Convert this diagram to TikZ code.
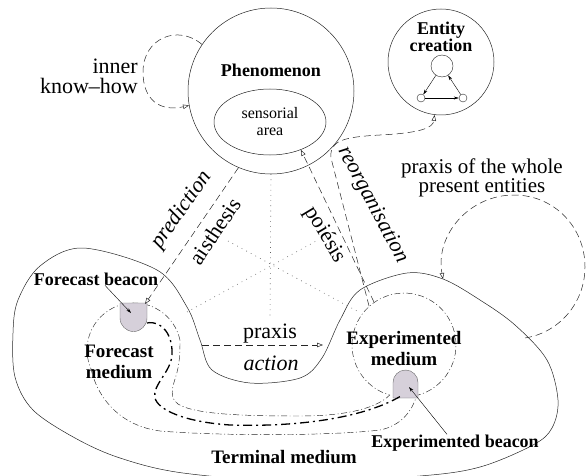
\documentclass[tikz,border=0pt]{standalone}
\usepackage{fontspec}
\setmainfont{Liberation Serif}
\usetikzlibrary{arrows.meta,shapes.geometric}
\definecolor{beacongray}{RGB}{214,208,218}

\begin{document}
\begin{tikzpicture}[
    x=1pt, y=-1pt,
    outline/.style={
        draw=black!85,
        line width=0.5pt
    },
    dashln/.style={
        draw=black!85,
        line width=0.5pt,
        dash pattern=on 7pt off 4pt
    },
    dashdot/.style={
        draw=black!85,
        line width=0.45pt,
        dash pattern=on 6pt off 2.5pt on 1pt off 2.5pt
    },
    thickdd/.style={
        draw=black,
        line width=1.3pt,
        dash pattern=on 9pt off 4pt on 2pt off 4pt
    },
    dotln/.style={
        draw=black!70,
        line width=0.6pt,
        dash pattern=on 0.7pt off 4.5pt
    },
    opentip/.style={-{Triangle[open,length=6pt,width=4.5pt]}},
    smalltip/.style={-{Stealth[length=5pt,width=3pt]}},
    bold/.style={
        font=\fontsize{18}{16}\selectfont\bfseries,
        inner sep=0pt,
        align=center
    },
    word/.style={
        font=\fontsize{22}{17}\selectfont,
        inner sep=0pt,
        align=center
    },
    slanted/.style={
        font=\fontsize{22}{17}\selectfont\itshape,
        inner sep=0pt
    },
    beacon/.style={
        fill=beacongray,
        draw=black!60,
        line width=0.4pt
    }
]
\clip (0,0) rectangle (586,476);

% Terminal medium
\draw[outline] plot[smooth cycle, tension=0.55] coordinates {
    (83,248) (157,270) (187,307) (200,340) (212,370) (250,383) (300,378)
    (322,358) (340,320) (360,290) (407,273) (443,279) (480,300) (515,325)
    (547,360) (558,400) (552,428) (533,445) (480,467) (420,476) (300,482)
    (183,473) (120,458) (75,438) (33,410) (15,377) (13,333) (18,300) (40,266)};

% Forecast and experimented media
\node[circle, minimum size=94pt, inner sep=0pt] (fcm) at (134,350) {};
\node[circle, minimum size=104pt, inner sep=0pt] (expm) at (404,345) {};
\draw[dashdot] (180,340.2) arc[start angle=-12, end angle=-204, radius=47]
    .. controls (96,392) and (115,425) .. (160,431)
    .. controls (220,436) and (330,436) .. (380,430)
    .. controls (400,426) and (412,412) .. (416.6,395.5)
    arc[start angle=76, end angle=-254, radius=52]
    .. controls (375,410) and (340,416) .. (300,416)
    .. controls (250,416) and (195,415) .. (178,404)
    .. controls (166,396) and (176,380) .. (178,368)
    .. controls (180,358) and (180,348) .. (180,340.2);

% Beacons
\draw[beacon] (120,303) -- (120,318) arc[start angle=180, end angle=0, radius=13.5] -- (147,303) -- cycle;
\draw[beacon] (393,398) -- (393,382.5) arc[start angle=180, end angle=360, radius=12.5] -- (418,398) -- cycle;
\coordinate (fbtop) at (145,304);
\coordinate (fbR) at (147,323);
\coordinate (fbc) at (131,313);
\coordinate (ebB) at (401,396);
\coordinate (ebc) at (409,387);

% Phenomenon and entity creation
\node[circle, draw=black!85, line width=0.5pt, minimum size=166pt, inner sep=0pt] (phen) at (271,91) {};
\node[bold, anchor=base] (phenlbl) at (271,77) {Phenomenon};
\node[ellipse, draw=black!85, line width=0.5pt, minimum width=112pt, minimum height=66pt, inner sep=0pt,
      font=\fontsize{16}{17}\selectfont, align=center] (sens) at (270,122) {sensorial\\area};
\node[circle, draw=black!85, line width=0.5pt, minimum size=106pt, inner sep=0pt] (ent) at (441,62) {};
\node[bold] (entlbl) at (441,37) {Entity\\creation};
\node[circle, draw=black!85, line width=0.4pt, minimum size=22pt, inner sep=0pt] (ctop) at (442,66) {};
\node[circle, draw=black!85, line width=0.4pt, minimum size=8pt, inner sep=0pt] (cleft) at (421,98) {};
\node[circle, draw=black!85, line width=0.4pt, minimum size=8pt, inner sep=0pt] (cright) at (463,98) {};
\draw[smalltip, line width=0.4pt] (ctop) -- (cleft);
\draw[smalltip, line width=0.4pt] (cleft) -- (cright);
\draw[smalltip, line width=0.4pt] (cright) -- (ctop);

% Medians
\coordinate (midFE) at (270,318);
\coordinate (fcmTip) at (187,312);
\coordinate (midPE) at (318,240);
\coordinate (midPF) at (228,241);
\coordinate (expmTip) at (357,311);
\draw[dotln] (phen.south) -- (midFE);
\draw[dotln] (fcmTip) -- (midPE);
\draw[dotln] (midPF) -- (expmTip);

% Loops and flows
\draw[dashln, opentip] (phen.146) .. controls (178,24) and (143,38) .. (143,72)
    .. controls (143,100) and (160,112) .. (phen.190);
\draw[dashln, opentip] (phen.247) -- (fbtop);
\draw[dashln, opentip] (expm.125) -- (sens.-42);
\draw[dashln, opentip] (expm.132) -- (331,158) .. controls (329,140) and (345,137) .. (380,135)
    .. controls (420,133) and (433,128) .. (ent.263);
\coordinate (praxS) at (202,345);
\coordinate (praxE) at (323,345);
\draw[dashln, opentip] (praxS) -- (praxE);
\coordinate (wholeS) at (525,338);
\coordinate (wholeE) at (443,279);
\draw[dashln, opentip] (wholeS) .. controls (560,332.5) and (585,302) .. (585,267)
    .. controls (585,227) and (554,195) .. (514,195)
    .. controls (469,195) and (435,235) .. (wholeE);
\draw[thickdd] (fbR) .. controls (162,320) and (173,335) .. (172,355)
    .. controls (171,372) and (152,385) .. (155,398)
    .. controls (158,410) and (185,422) .. (230,425)
    .. controls (290,427) and (360,420) .. (ebB);

% Labels
\node[word, font=\fontsize{22}{20}\selectfont, align=right, anchor=east] (knowhow) at (138,76) {inner\\know--how};
\node[word, font=\fontsize{21}{16}\selectfont] (wholelbl) at (482,178) {praxis of the whole\\present entities};
\node[slanted, rotate=55] (predlbl) at (182,210) {prediction};
\node[word, rotate=56] (aislbl) at (215,231) {aisthesis};
\node[word, rotate=-59] (poilbl) at (325,235) {poiésis};
\node[slanted, rotate=-62] (reolbl) at (373,205) {reorganisation};
\node[word, anchor=base] (praxlbl) at (270,338) {praxis};
\node[slanted, anchor=base] (actlbl) at (271,370) {action};
\node[bold, anchor=base] (fbtxt) at (96,285) {Forecast beacon};
\node[bold, font=\fontsize{19}{21}\selectfont\bfseries] (fcmlbl) at (119,362) {Forecast\\medium};
\node[bold, font=\fontsize{19}{21}\selectfont\bfseries] (expmlbl) at (404,349) {Experimented\\medium};
\node[bold, anchor=base] (ebtxt) at (455,447) {Experimented beacon};
\node[bold, font=\fontsize{19}{21}\selectfont\bfseries, anchor=base] (termlbl) at (284,463) {Terminal medium};
\draw[smalltip, line width=0.4pt] ([xshift=9pt]fbtxt.south) -- (fbc);
\draw[smalltip, line width=0.4pt] ([xshift=-8pt]ebtxt.north) -- (ebc);

\end{tikzpicture}
\end{document}
